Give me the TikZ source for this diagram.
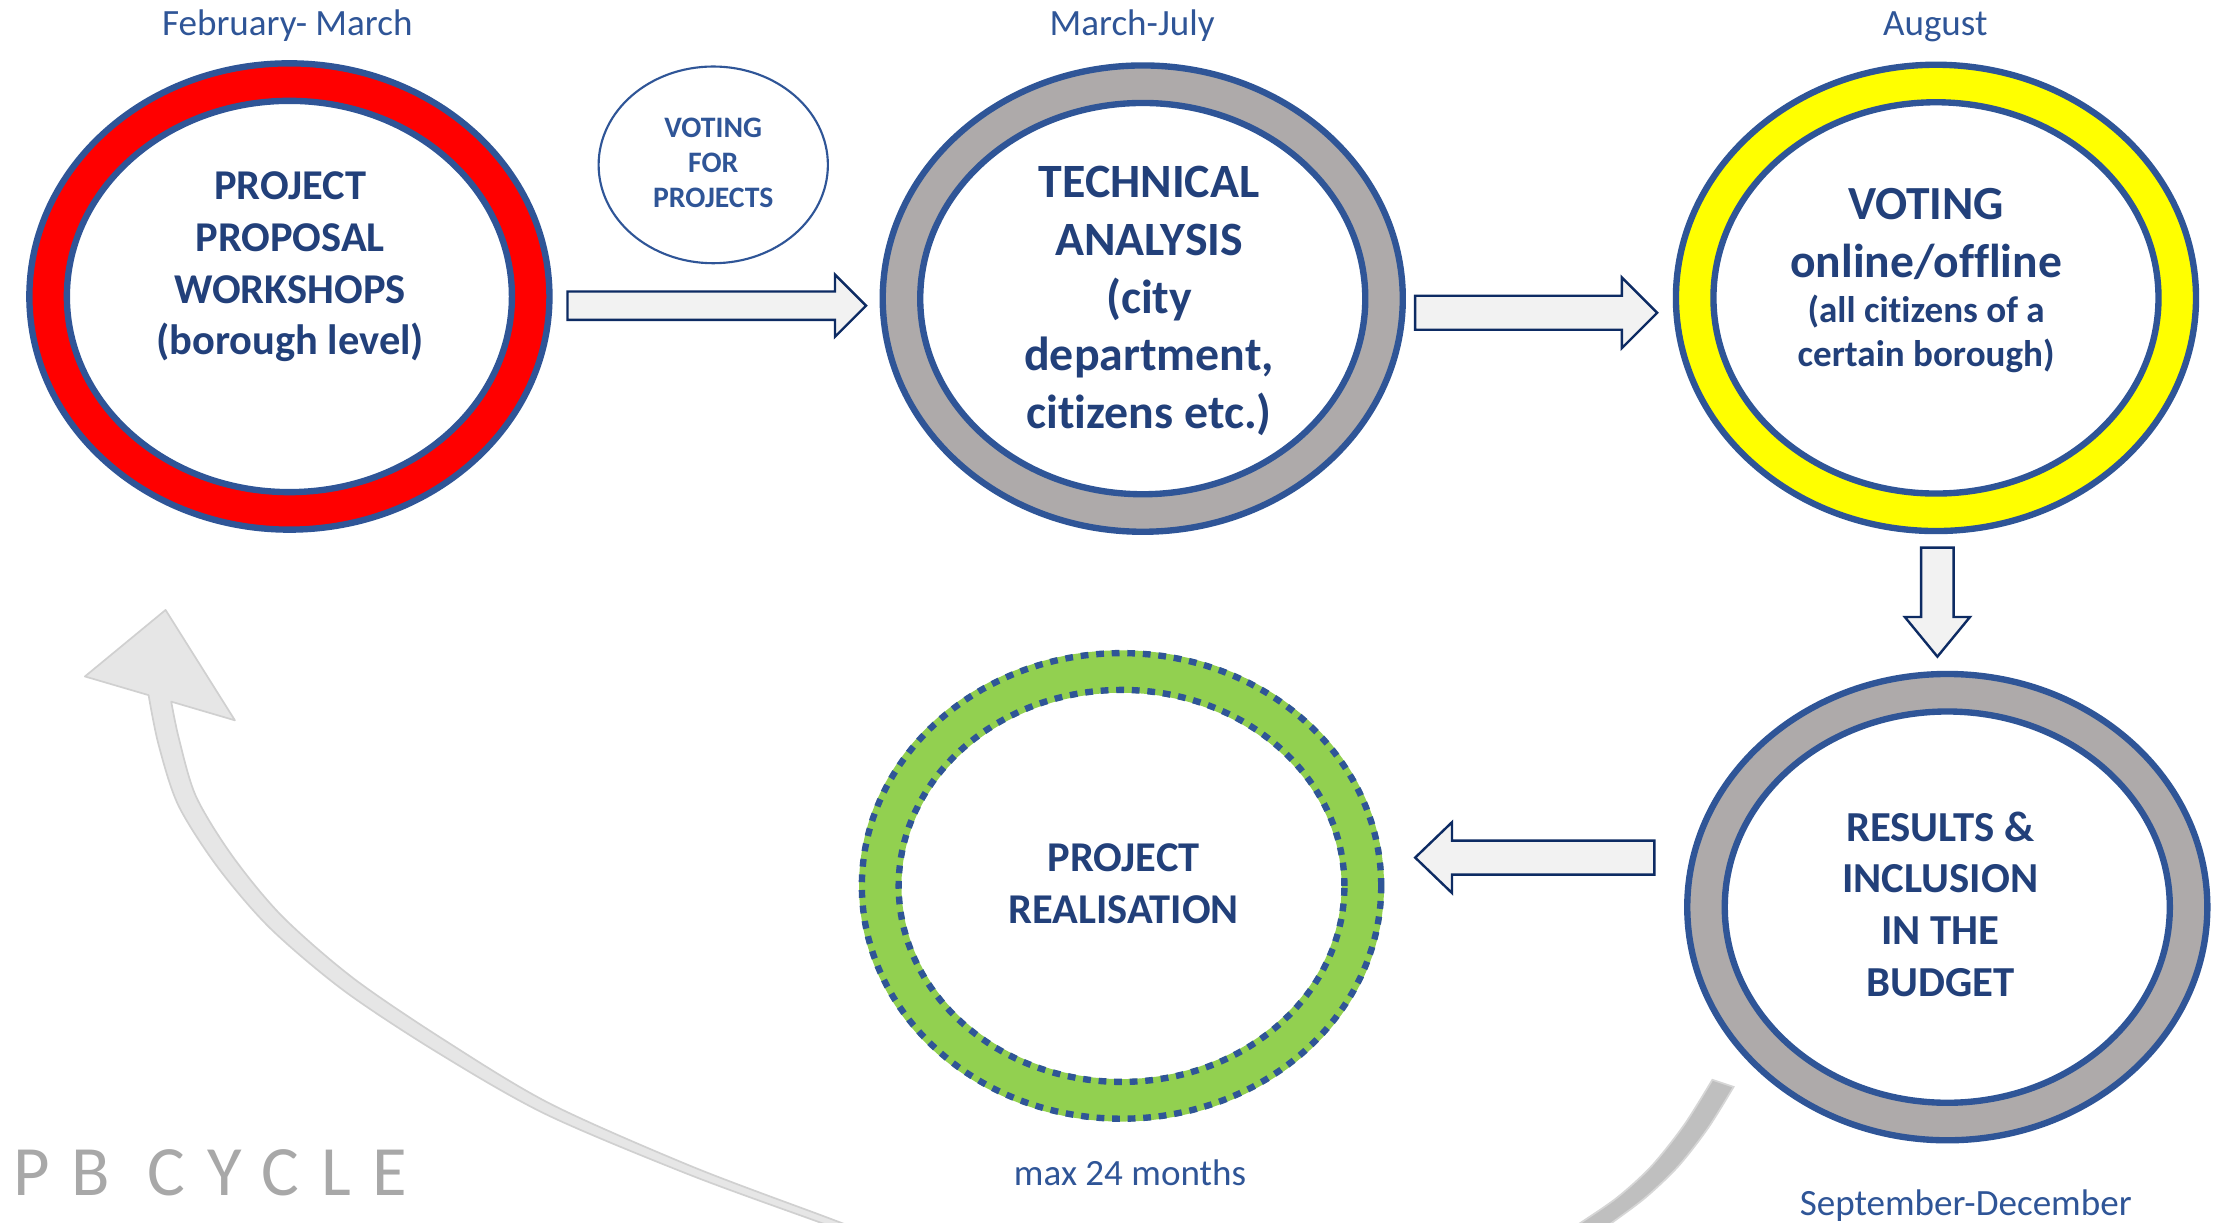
\documentclass[tikz,border=0pt]{standalone}
\usepackage{fontspec}
\setmainfont{Carlito}[Ligatures=NoCommon]
\usetikzlibrary{calc,shapes.geometric}
\definecolor{ringblue}{HTML}{2F5597}
\definecolor{txtblue}{HTML}{22407A}
\definecolor{lblblue}{HTML}{2F5597}
\definecolor{ringred}{HTML}{FF0000}
\definecolor{ringgray}{HTML}{AEAAAA}
\definecolor{ringyellow}{HTML}{FFFF00}
\definecolor{ringgreen}{HTML}{92D050}
\definecolor{arrowfill}{HTML}{F2F2F2}
\definecolor{arrowedge}{HTML}{0D2B63}
\definecolor{cyclefill}{HTML}{E6E6E6}
\definecolor{cycleedge}{HTML}{D0D0D0}
\definecolor{bandfill}{HTML}{BFBFBF}
\definecolor{bandedge}{HTML}{D6D6D6}
\definecolor{pbgray}{HTML}{A8A8A8}
\tikzset{
  ringband/.style={line width=28pt, draw=#1},
  ringedge/.style={line width=4.5pt, draw=ringblue},
  ringdots/.style={line width=4.5pt, draw=ringblue, dash pattern=on 5.5pt off 5.5pt},
  bigtext/.style 2 args={text=txtblue, font=\bfseries\fontsize{#1}{#2}\selectfont, align=center, inner sep=0pt},
  lbl/.style={text=lblblue, font=\fontsize{26.2}{31}\selectfont, inner sep=0pt, anchor=base},
  blockarrow/.style={fill=arrowfill, draw=arrowedge, line width=1.7pt, line join=miter},
  pics/blockarr/.style args={#1/#2/#3/#4}{code={
    \draw[blockarrow] (0,-#2) -- ({#1-#4},-#2) -- ({#1-#4},-#3) -- (#1,0) -- ({#1-#4},#3) -- ({#1-#4},#2) -- (0,#2) -- cycle;}},
  outerR/.style={x radius=183.75pt, y radius=164.75pt},
  midR/.style={x radius=170.5pt, y radius=151.5pt},
  innerR/.style={x radius=157.25pt, y radius=138.25pt}
}
\begin{document}
\begin{tikzpicture}[x=1pt,y=-1pt]
\useasboundingbox (0,0) rectangle (1568,864);
\fill[white] (0,0) rectangle (1568,864);

% big cycle arrow (left)
\draw[fill=cyclefill, draw=cycleedge, line width=1.2pt, line join=round]
  (117,431) -- (166,509) -- (121,495.8)
  -- plot[smooth] coordinates {(121,495.8) (126.5,522.2) (138.6,563) (164.4,605.2) (199.4,647.5) (249.6,691.2) (313.3,734.5) (388.5,779.8) (489.2,824.4) (581.8,859.3) (600.5,866.4)}
  -- plot[smooth] coordinates {(598.7,871) (580,864) (487,830) (385,787) (308,743) (243,700) (191,656) (154,613) (126,569) (112,526) (105,491.2)}
  -- (60,478) -- cycle;

% band near ring D
\draw[fill=bandfill, draw=bandedge, line width=1.2pt]
  (1210,763) -- (1225,768)
  -- plot[smooth] coordinates {(1225,768) (1207,797) (1186,824) (1163,846) (1139,864) (1125,874)}
  -- plot[smooth] coordinates {(1103,873) (1117,864) (1143,846) (1167,824) (1190,795) (1210,763)}
  -- cycle;

% ring centres
\coordinate (A) at (204.5,209.5);
\coordinate (B) at (807.5,211);
\coordinate (C) at (1368,210.5);
\coordinate (D) at (1376,641);
\coordinate (E) at (792.5,626);

% rings
\foreach \c/\col in {A/ringred, B/ringgray, C/ringyellow, D/ringgray}{
  \draw[ringband=\col] (\c) ellipse[midR];
  \draw[ringedge] (\c) ellipse[outerR];
  \draw[ringedge] (\c) ellipse[innerR];
}
\draw[line width=30pt, draw=ringgreen] (E) ellipse[midR];
\draw[ringdots] (E) ellipse[x radius=183.5pt, y radius=164.5pt];
\draw[ringdots] (E) ellipse[x radius=157.5pt, y radius=138.5pt];

% ring texts
\node[bigtext={30}{36.5}] (tA) at (205,188.6) {PROJECT\\PROPOSAL\\WORKSHOPS\\(borough level)};
\node[bigtext={33.8}{40.8}] (tB) at (812,212.8) {TECHNICAL\\ANALYSIS\\(city\\department,\\citizens etc.)};
\node[bigtext={33.6}{41}] (tC1) at (1361,165.3) {VOTING\\online/offline};
\node[bigtext={26.2}{31}] (tC2) at (1361,236.2) {(all citizens of a\\certain borough)};
\node[bigtext={30.2}{36.7}] (tD) at (1371,639) {RESULTS \&\\INCLUSION\\IN THE\\BUDGET};
\node[bigtext={30}{36.5}] (tE) at (794,624.3) {PROJECT\\REALISATION};

% voting for projects
\node[ellipse, draw=ringblue, line width=1.5pt, minimum width=162pt, minimum height=139pt, inner sep=0pt] (V) at (504,116.5) {};
\node[text=lblblue, font=\bfseries\fontsize{21}{25}\selectfont, align=center, inner sep=0pt] (Vt) at (504,115) {VOTING\\FOR\\PROJECTS};

% labels
\node[lbl] (lA) at (203,25) {February- March};
\node[lbl] (lB) at (800,25) {March-July};
\node[lbl] (lC) at (1367.5,25) {August};
\node[lbl] (lE) at (798.5,838) {max 24 months};
\node[lbl] (lD) at (1389,859) {September-December};

% block arrows
\coordinate (ar1) at (401,216);
\coordinate (ar2) at (1000,221);
\coordinate (ar3) at (1369,387);
\coordinate (ar4) at (1169,606);
\pic at (ar1) {blockarr=211/10/22/22};
\pic at (ar2) {blockarr=171/12/25/25};
\pic[rotate=-90] at (ar3) {blockarr=77/11.5/23/28};
\pic[rotate=180] at (ar4) {blockarr=169/12/25/26};

% PB CYCLE
\node[anchor=base west, inner sep=0pt, text=pbgray, font=\fontsize{50}{56}\selectfont\addfontfeatures{LetterSpace=31}] (pb) at (9,845) {PB CYCLE};
\end{tikzpicture}
\end{document}
